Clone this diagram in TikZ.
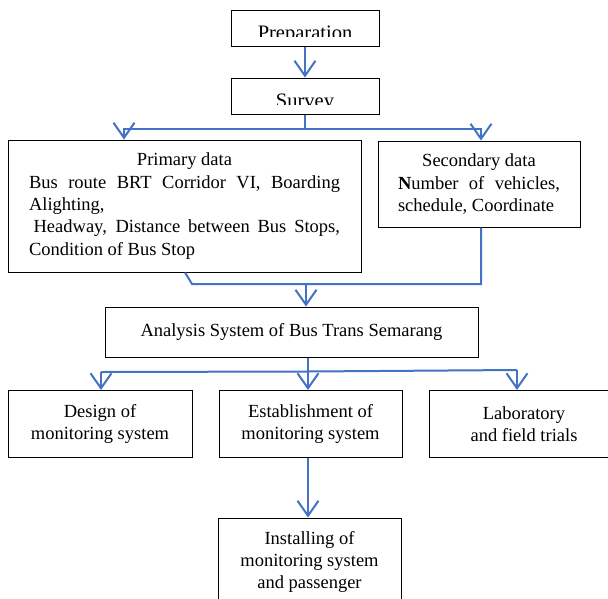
\documentclass[tikz,border=0pt]{standalone}
\usepackage{fontspec}
\setmainfont{Liberation Serif}
\usetikzlibrary{arrows.meta,positioning,calc}
\definecolor{flowblue}{RGB}{68,114,196}

\begin{document}
\begin{tikzpicture}[
    x=1pt, y=-1pt,
    font=\fontsize{18.5}{22.3}\selectfont,
    box/.style={rectangle, draw, line width=1pt, align=center, inner sep=0pt},
    cutlabel/.style={path picture={
        \clip (path picture bounding box.north west) rectangle ($(path picture bounding box.south east)+(0,-9.5)$);
        \node[anchor=base, font=\fontsize{20.5}{24}\selectfont] at ($(path picture bounding box.south)+(0,-6.5)$) {#1};}},
    arrow/.style={-{Straight Barb[length=15pt,width=21pt]}, line width=2pt, draw=flowblue},
    link/.style={line width=2pt, draw=flowblue}
]
    \useasboundingbox (0,0) rectangle (608,598);

    \node[box, minimum width=148pt, minimum height=36pt, cutlabel=Preparation] (prep) at (305,28) {};
    \node[box, minimum width=148pt, minimum height=36pt, below=31pt of prep, cutlabel=Survey] (survey) {};
    \node[box, minimum width=353pt, minimum height=132pt, text width=311pt, align=justify] (primary) at (184.5,206)
        {{\centering Primary data\par}Bus route BRT Corridor VI, Boarding Alighting,\newline
         \hspace*{0.25em}Headway, Distance between Bus Stops,\linebreak Condition of Bus Stop};
    \node[box, minimum width=202pt, minimum height=86pt, text width=162pt, align=justify] (secondary) at (479,184)
        {{\centering Secondary data\par}\textbf{N}umber of vehicles,\linebreak schedule, Coordinate};
    \node[box, minimum width=373pt, minimum height=50pt] (analysis) at (291.5,332) {Analysis System of Bus Trans Semarang};
    \node[box, minimum width=184pt, minimum height=67pt] (design) at (100,424) {Design of\\monitoring system};
    \node[box, minimum width=183pt, minimum height=67pt, right=26pt of design] (establish) {Establishment of\\monitoring system};
    \node[box, minimum width=190pt, minimum height=67pt, right=26pt of establish] (lab) {Laboratory\\and field trials};
    \node[box, minimum width=183pt, minimum height=88pt] (install) at (309.5,562) {Installing of\\monitoring system\\and passenger};

    % survey splits into the two kinds of data
    \draw[arrow] (prep) -- (survey);
    \draw[link] (survey.south) -- ++(0,14) coordinate (split);
    \draw[arrow] (split) -| (primary.north -| 124,0);
    \draw[arrow] (split) -| (secondary.north -| 481,0);

    % both data sets feed the analysis
    \draw[link] (primary.south -| 185,0) -- (192,284) -| (secondary.south -| 481,0);
    \draw[arrow] (306,284) -- (analysis.north -| 306,0);

    % analysis branches into three tasks
    \draw[link] (analysis.south -| 308,0) -- ++(0,14) coordinate (branch);
    \draw[link] (101,372) -- (branch) -- (517,370);
    \draw[arrow] (101,372) -- (design.north -| 101,0);
    \draw[arrow] (branch) -- (establish.north -| 308,0);
    \draw[arrow] (517,370) -- (lab.north -| 517,0);
    \draw[arrow] (establish.south -| 308,0) -- (install.north -| 308,0);
\end{tikzpicture}
\end{document}
